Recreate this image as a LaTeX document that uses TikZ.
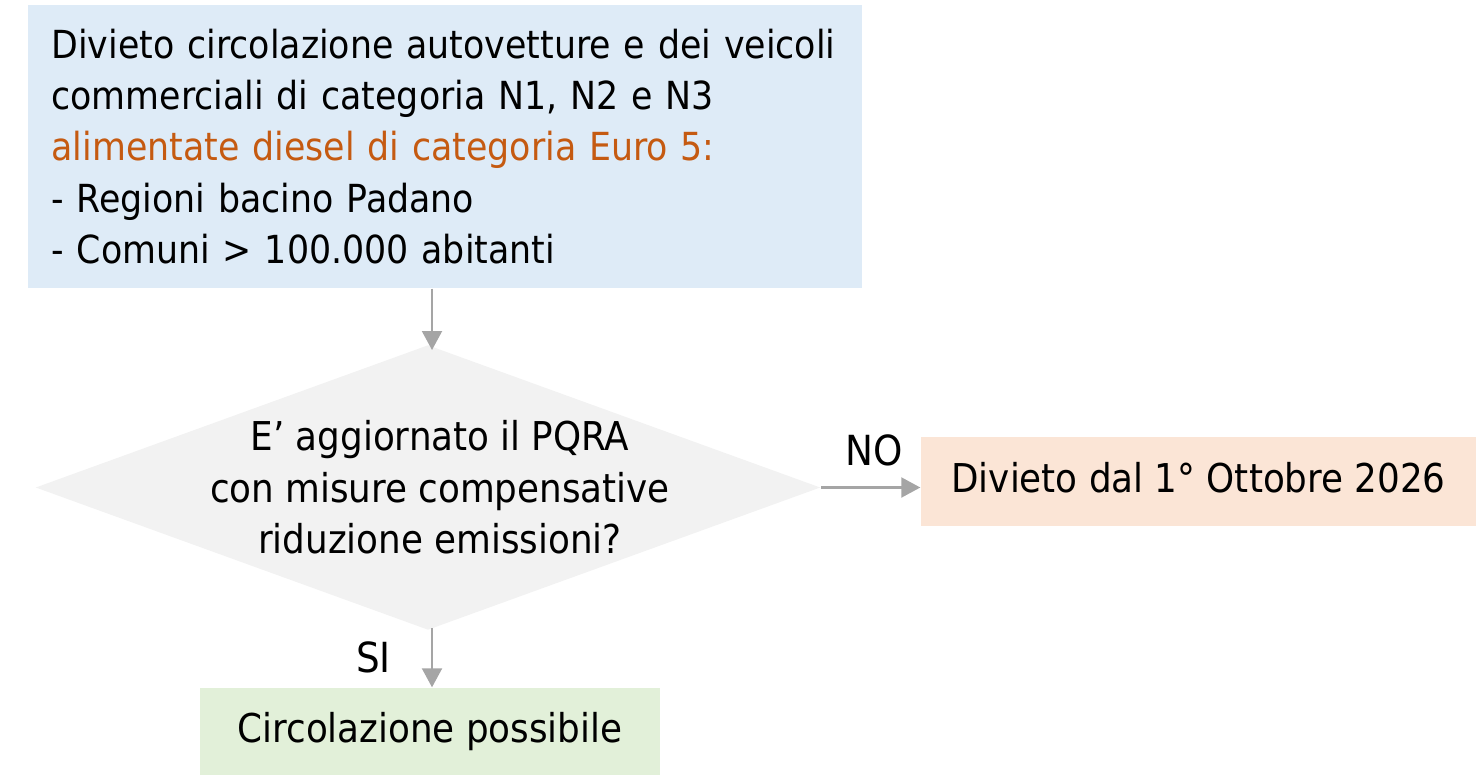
\documentclass[tikz,border=0pt]{standalone}
\usepackage{fontspec}
\setmainfont{DejaVu Sans Condensed}
\usepackage{tikz}
\usetikzlibrary{positioning,calc,shapes.geometric,arrows.meta}
\definecolor{BoxBlue}{HTML}{DEEBF7}
\definecolor{BoxPeach}{HTML}{FBE5D6}
\definecolor{BoxGreen}{HTML}{E2F0D9}
\definecolor{DiaGray}{HTML}{F2F2F2}
\definecolor{ArrGray}{HTML}{A5A5A5}
\definecolor{TxtOrange}{HTML}{C55A11}
\tikzset{
    boxnode/.style={rectangle, draw=none, inner sep=0pt, font=\fontsize{11.3pt}{14.6pt}\selectfont},
    flowarrow/.style={draw=ArrGray, line width=0.6pt, -{Triangle[length=0.19cm, width=0.2cm]}}
}

\begin{document}
\begin{tikzpicture}[
    % Style per il rombo
    decisionnode/.style={
        diamond,
        fill=DiaGray,
        aspect=2.754,
        inner xsep=0pt,
        inner ysep=-0.3cm,
        minimum width=7.85cm,
        minimum height=2.85cm,
        align=center,
        font=\fontsize{11.3pt}{14.6pt}\selectfont
    },
    % Style per le etichette SI / NO
    answer/.style={font=\fontsize{11.8pt}{14pt}\selectfont, inner sep=0pt}
]
    \useasboundingbox (0,0) rectangle (14.82,-7.8);

    % --- NODI ---
    % Riquadro iniziale (azzurro)
    \node[boxnode, fill=BoxBlue, minimum width=8.34cm, minimum height=2.83cm,
          text width=7.87cm, align=left, inner xsep=0.235cm,
          font=\fontsize{11pt}{14.6pt}\selectfont] (start) at (4.45,-1.465)
    {Divieto circolazione autovetture e dei veicoli\\
     commerciali di categoria N1, N2 e N3\\
     \textcolor{TxtOrange}{alimentate diesel di categoria Euro 5:}\\
     - Regioni bacino Padano\\
     - Comuni > 100.000 abitanti};

    % Domanda (grigio)
    \node[decisionnode] (Q) at (4.28,-4.875)
    {\hspace{0.24cm}E’ aggiornato il PQRA\\
     \hspace{0.24cm}con misure compensative\\
     \hspace{0.24cm}riduzione emissioni?};

    % Esito NO (pesca)
    \node[boxnode, fill=BoxPeach, minimum width=5.55cm, minimum height=0.89cm] (ban) at (11.985,-4.815)
    {\raisebox{0.09cm}{Divieto dal 1° Ottobre 2026}};

    % Esito SI (verde)
    \node[boxnode, fill=BoxGreen, minimum width=4.60cm, minimum height=0.87cm] (ok) at (4.30,-7.315)
    {Circolazione possibile};

    % --- FRECCE ---
    \draw[flowarrow] (start.south -| 4.32,0) -- (4.32,-3.50);
    \draw[flowarrow] (Q.east) -- (Q.east -| ban.west)
        node[answer, pos=0.53, above=0.2cm] (no) {NO};
    \draw[flowarrow] (4.32,-6.28) -- (ok.north -| 4.32,0)
        node[answer, pos=0.5, left=0.4cm] (si) {SI};

\end{tikzpicture}
\end{document}
